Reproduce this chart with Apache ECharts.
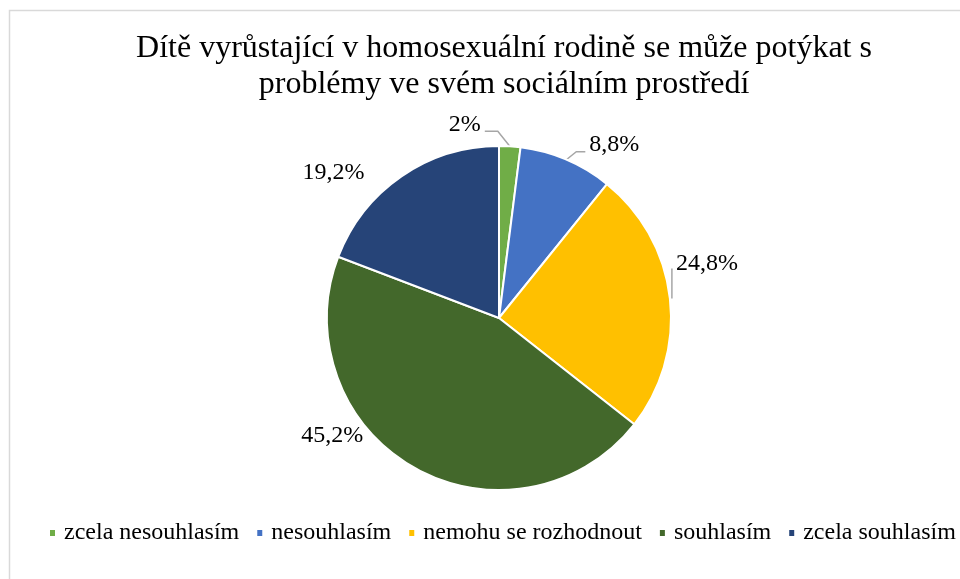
<!DOCTYPE html>
<html>
<head>
<meta charset="utf-8">
<script src="https://cdn.jsdelivr.net/npm/echarts@6/dist/echarts.min.js"></script>
<style>
  html, body { margin: 0; padding: 0; background: #fff; }
  #chart { width: 960px; height: 579px; }
</style>
</head>
<body>
<div id="chart"></div>
<script>
const categories = ['zcela nesouhlasím', 'nesouhlasím', 'nemohu se rozhodnout', 'souhlasím', 'zcela souhlasím'];
const values = [2, 8.8, 24.8, 45.2, 19.2];
const colors = ['#70AD47', '#4472C4', '#FFC000', '#43682B', '#264478'];

const chart = echarts.init(document.getElementById('chart'));
const font = '"Liberation Serif", "Times New Roman", serif';

// label placement tweaks, relative to the slice edge point (Excel-like leaders)
const placeLabel = (params) => {
  const pts = params.labelLinePoints;
  if (!pts) return {};
  const [px, py] = pts[0];
  switch (params.dataIndex) {
    case 0:
      return {
        x: px - 29, y: py - 22, align: 'right', verticalAlign: 'middle',
        labelLinePoints: [[px, py], [px - 12, py - 15], [px - 25, py - 15]]
      };
    case 1:
      return {
        x: px + 23, y: py - 15, align: 'left', verticalAlign: 'middle',
        labelLinePoints: [[px, py], [px + 10, py - 8], [px + 19, py - 8]]
      };
    case 2:
      return {
        x: px + 6, y: py - 35, align: 'left', verticalAlign: 'middle',
        labelLinePoints: [[px + 2, py], [px + 2, py - 30]]
      };
    case 3:
      return { x: px - 82, y: py - 32, align: 'center', verticalAlign: 'middle' };
    case 4:
      return { x: px - 68, y: py - 4, align: 'center', verticalAlign: 'middle' };
    default:
      return {};
  }
};

chart.setOption({
  color: colors,
  graphic: [{
    type: 'rect',
    shape: { x: 9.5, y: 10.5, width: 980, height: 600 },
    style: { fill: 'none', stroke: '#d9d9d9', lineWidth: 1.5 },
    silent: true
  }],
  title: {
    text: 'Dítě vyrůstající v homosexuální rodině se může potýkat s\nproblémy ve svém sociálním prostředí',
    left: 499,
    textAlign: 'center',
    top: 26,
    textStyle: { fontFamily: font, fontSize: 32, fontWeight: 'normal', color: '#000', lineHeight: 36 }
  },
  legend: {
    bottom: 29,
    left: 48,
    width: 910,
    padding: [5, 0, 5, 0],
    itemWidth: 7,
    itemHeight: 8,
    itemGap: 16,
    icon: 'rect',
    textStyle: { fontFamily: font, fontSize: 24, color: '#000', padding: [0, 0, 0, 3] },
    data: categories
  },
  series: [{
    type: 'pie',
    center: [499, 318],
    radius: 172,
    startAngle: 90,
    clockwise: true,
    avoidLabelOverlap: false,
    itemStyle: { borderColor: '#fff', borderWidth: 2 },
    label: {
      show: true,
      position: 'outside',
      fontFamily: font,
      fontSize: 24,
      color: '#000',
      formatter: p => String(p.value).replace('.', ',') + '%'
    },
    labelLine: { show: true, length: 8, length2: 10, lineStyle: { color: '#a6a6a6', width: 1.5 } },
    labelLayout: placeLabel,
    data: categories.map((c, i) => ({
      name: c,
      value: values[i],
      labelLine: { show: i < 3 }
    }))
  }]
});
</script>
</body>
</html>
